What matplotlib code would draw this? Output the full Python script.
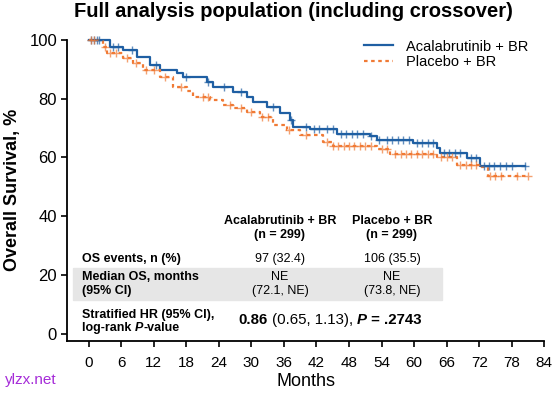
import numpy as np
import matplotlib
matplotlib.use("Agg")
import matplotlib.pyplot as plt
from matplotlib.offsetbox import TextArea, HPacker, AnnotationBbox

plt.rcParams["font.family"] = ["Liberation Sans", "DejaVu Sans"]

blue = "#1f5fa3"
orange = "#f07a35"

# step curves: (months, survival %)
acal_t = [0, 3.9, 6.3, 8.9, 11.3, 13.1, 16.3, 17.4, 21.8, 22.9, 26.6, 29.2, 30.3,
          32.9, 35.3, 37.1, 37.7, 40.8, 45.8, 51.9, 53.2, 59.8, 64.2, 64.8, 69.8,
          72.2, 80.4]
acal_s = [100, 97.7, 96.6, 94.3, 91.5, 89.8, 88.9, 87.5, 85.8, 84.1, 82.4, 80.7, 79,
          77.3, 75.1, 72.8, 70.5, 69.7, 68, 67.3, 66, 64.9, 63.3, 61.5, 59.9,
          57.1, 57.1]
acal_cens = [0.5, 1, 1.5, 2, 4.5, 5.5, 8, 12.5, 18, 22, 25, 28, 34, 37.3, 40, 41.5,
             42.5, 44, 45, 46.5, 47.5, 48.5, 49.5, 50.5, 52, 53.5, 55, 56, 57, 58,
             59, 60.5, 61.5, 62.5, 63.5, 65.5, 66.5, 67.5, 68.5, 70.5, 71.5, 72.8,
             73.8, 74.8, 75.8, 77, 78, 80.4]

plac_t = [0, 2.6, 3.4, 6.3, 8.2, 10, 13.1, 15.5, 18.1, 19.3, 22.4, 24.8, 26.6, 29.2,
          31.6, 34, 36.6, 39, 43.2, 45, 53.2, 55.6, 64.2, 67.9, 72.2, 73.6, 81]
plac_s = [100, 97.7, 95.5, 93.8, 92.1, 89.8, 87.5, 84.1, 82.7, 80.7, 79.6, 77.9, 76.7,
          75.6, 73.7, 71.1, 69.3, 67.6, 65.4, 63.9, 62.8, 61.2, 60.2, 57.4, 56.8,
          53.8, 53.8]
plac_cens = [0.5, 1, 3, 4, 5, 7, 8.7, 10.5, 12, 14, 17, 21, 22, 26, 28, 30, 32, 33,
             37, 40, 44, 45, 46, 47, 48, 49, 50, 51, 52, 54, 55, 56.5, 57.5, 58.5,
             59.5, 60.5, 61.5, 62.5, 63.5, 65, 66, 67, 68.5, 69.5, 70.5, 71.5, 74,
             75, 76, 79, 81]

x_ticks = list(range(0, 85, 6))
y_ticks = [0, 20, 40, 60, 80, 100]


def surv_at(times, t_steps, s_steps):
    idx = np.searchsorted(t_steps, times, side="right") - 1
    return np.array(s_steps)[idx]


fig = plt.figure(figsize=(5.54, 3.94), dpi=100)
ax = fig.add_axes([0.1218, 0.1353, 0.8607, 0.7632])

ax.step(acal_t, acal_s, where="post", color=blue, lw=1.6, clip_on=False,
        label="Acalabrutinib + BR")
ax.step(plac_t, plac_s, where="post", color=orange, lw=1.6, ls=(0, (1.6, 1.6)),
        clip_on=False, label="Placebo + BR")
ax.plot(acal_cens, surv_at(acal_cens, acal_t, acal_s), "+", color=blue, ms=6,
        mew=1.0, alpha=0.7, clip_on=False)
ax.plot(plac_cens, surv_at(plac_cens, plac_t, plac_s), "+", color=orange, ms=6,
        mew=1.0, alpha=0.7, clip_on=False)

ax.set_xlim(-3.9, 84)
ax.set_ylim(-2.45, 100)
ax.set_xticks(x_ticks)
ax.set_yticks(y_ticks)
ax.tick_params(axis="x", labelsize=11, length=4, width=1.2, pad=7)
ax.tick_params(axis="y", labelsize=12, length=4, width=1.2)
for s in ["top", "right"]:
    ax.spines[s].set_visible(False)
for s in ["left", "bottom"]:
    ax.spines[s].set_linewidth(1.3)

ax.set_xlabel("Months", fontsize=13, labelpad=2)
ax.set_ylabel("Overall Survival, %", fontsize=13, fontweight="bold", labelpad=6)
fig.suptitle("Full analysis population (including crossover)", fontsize=14.5,
             fontweight="bold", x=0.53, y=0.995)

ax.legend(loc="upper right", bbox_to_anchor=(0.995, 1.045), frameon=False,
          fontsize=10.5, handlelength=2.0, labelspacing=0.12, handletextpad=0.9)

# summary table inside the axes (figure pixel coords converted to fractions)
W, H = 554, 394


def ftext(x, y, s, size=9, **kw):
    fig.text(x / W, 1 - y / H, s, va="center", fontsize=size, **kw)


def mixed(x, y, parts, size, box_align):
    areas = [TextArea(t, textprops=dict(fontsize=size, fontweight=w, fontstyle=st))
             for t, w, st in parts]
    pack = HPacker(children=areas, align="baseline", pad=0, sep=0)
    ab = AnnotationBbox(pack, (x / W, 1 - y / H), xycoords="figure fraction",
                        box_alignment=box_align, frameon=False, pad=0)
    fig.add_artist(ab)


fig.patches.append(plt.Rectangle((73 / W, 1 - 300 / H), (442 - 73) / W, 32 / H,
                                 transform=fig.transFigure, color="#e6e6e6",
                                 zorder=0.5))
ax.set_zorder(1)
ax.patch.set_alpha(0)

col1, col2 = 280, 392
ftext(col1, 221, "Acalabrutinib + BR", ha="center", fontweight="bold")
ftext(col1, 235, "(n = 299)", ha="center", fontweight="bold")
ftext(col2, 221, "Placebo + BR", ha="center", fontweight="bold")
ftext(col2, 235, "(n = 299)", ha="center", fontweight="bold")

ftext(82, 259, "OS events, n (%)", ha="left", fontweight="bold")
ftext(col1, 259, "97 (32.4)", ha="center")
ftext(col2, 259, "106 (35.5)", ha="center")

ftext(82, 277, "Median OS, months", ha="left", fontweight="bold")
ftext(82, 291, "(95% CI)", ha="left", fontweight="bold")
ftext(col1, 277, "NE", ha="center")
ftext(col1, 291, "(72.1, NE)", ha="center")
ftext(col2, 277, "NE", ha="center")
ftext(col2, 291, "(73.8, NE)", ha="center")

ftext(82, 315, "Stratified HR (95% CI),", ha="left", fontweight="bold")
mixed(82, 328, [("log-rank ", "bold", "normal"), ("P", "bold", "italic"),
                ("-value", "bold", "normal")], 9, (0, 0.5))
mixed(330, 320, [("0.86", "bold", "normal"), (" (0.65, 1.13), ", "normal", "normal"),
                 ("P", "bold", "italic"), (" = .2743", "bold", "normal")],
      10.8, (0.5, 0.5))

fig.text(5 / W, 1 - 380 / H, "ylzx.net", color="#a52bd8", fontsize=11, va="center")

fig.savefig("out.png", dpi=100)
